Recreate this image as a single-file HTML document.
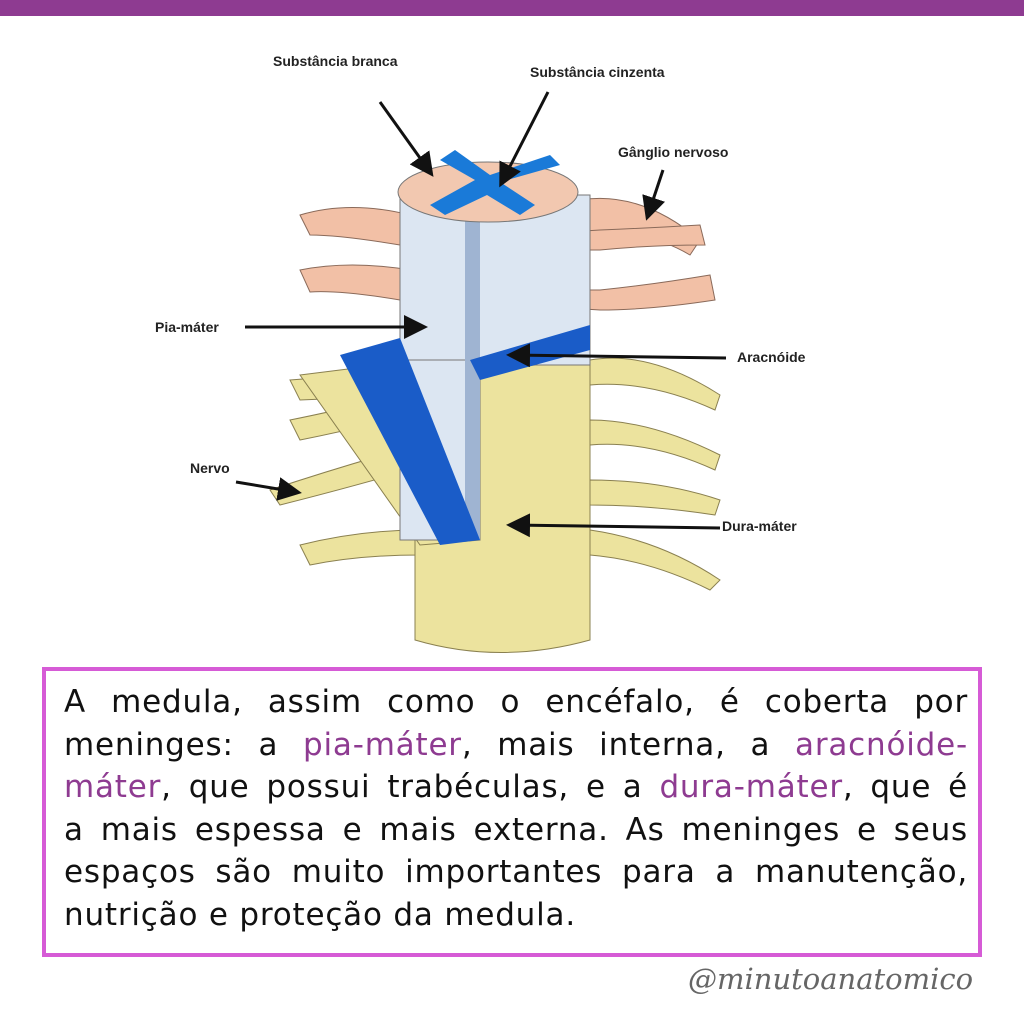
<!DOCTYPE html>
<html><head><meta charset="utf-8"><style>
body{margin:0;width:1024px;height:1024px;background:#fff;position:relative;overflow:hidden;font-family:"Liberation Sans",sans-serif}
.bar{position:absolute;left:0;top:0;width:1024px;height:16px;background:#8e3b91}
.box{position:absolute;left:42px;top:667px;width:932px;height:282px;border:4px solid #d65bd6;box-sizing:content-box}
.txt{position:absolute;left:18px;top:10px;width:904px;font-family:"DejaVu Sans",sans-serif;font-size:31px;line-height:42.6px;color:#111;letter-spacing:0.8px}
.txt div{text-align:justify;text-align-last:justify;white-space:nowrap}
.txt div.l{text-align-last:left}
.p{color:#8e3b91}
.h{position:absolute;left:688px;top:962px;font-family:"DejaVu Serif",cursive;font-style:italic;font-size:29px;color:#666}
</style></head><body>
<div class="bar"></div>
<svg width="1024" height="660" style="position:absolute;left:0;top:0" font-family="Liberation Sans,sans-serif" font-size="14" font-weight="bold" fill="#222">
<defs><marker id="a" markerWidth="8" markerHeight="8" refX="6" refY="4" orient="auto"><path d="M0,0L8,4L0,8z" fill="#111"/></marker></defs>
<g fill="#f2c0a6" stroke="#8a6a5a" stroke-width="1">
<path d="M300,215 Q350,200 410,215 L470,230 L470,250 L400,245 Q340,235 310,235z"/>
<path d="M300,270 Q350,260 410,270 L460,295 L460,310 L400,300 Q340,290 310,292z"/>
<path d="M580,200 Q640,190 700,240 L690,255 Q640,225 570,235z"/>
<path d="M520,235 L600,230 Q650,228 700,225 L705,245 Q650,245 600,250 L520,250z"/>
<path d="M520,290 L600,290 Q650,285 710,275 L715,300 Q650,310 600,310 L520,305z"/>
</g>
<g fill="#ece39e" stroke="#8a8050" stroke-width="1">
<path d="M290,380 L420,370 L420,395 L300,400z"/>
<path d="M290,420 Q340,410 400,395 L410,415 Q350,430 300,440z"/>
<path d="M270,490 Q330,470 400,450 L410,470 Q340,490 280,505z"/>
<path d="M300,545 Q360,530 420,530 L420,555 Q360,555 310,565z"/>
<path d="M590,360 Q650,350 720,395 L715,410 Q650,380 590,385z"/>
<path d="M590,420 Q650,420 720,455 L715,470 Q650,440 590,445z"/>
<path d="M590,480 Q660,480 720,500 L715,515 Q650,505 590,505z"/>
<path d="M590,530 Q660,540 720,580 L710,590 Q650,560 590,555z"/>
</g>
<path d="M415,540 L415,640 Q500,665 590,640 L590,360 L480,370 L480,540z" fill="#ece39e" stroke="#8a8050"/>
<path d="M300,375 L420,360 L480,540 L420,545z" fill="#ece39e" stroke="#8a8050"/>
<rect x="400" y="195" width="190" height="170" fill="#dce6f2" stroke="#777"/>
<rect x="400" y="360" width="80" height="180" fill="#dce6f2" stroke="#777"/>
<rect x="465" y="210" width="15" height="330" fill="#9fb4d2"/>
<path d="M340,355 L400,338 L480,540 L440,545z" fill="#1a5cc8"/>
<path d="M470,360 L590,325 L590,350 L480,380z" fill="#1a5cc8"/>
<ellipse cx="488" cy="192" rx="90" ry="30" fill="#f2c8b0" stroke="#777"/>
<path d="M440,160 L475,180 L430,205 L445,215 L487,195 L520,215 L535,205 L500,182 L560,165 L550,155 L490,175 L455,150z" fill="#1a7ad8"/>
<text x="273" y="66">Substância branca</text>
<text x="530" y="77">Substância cinzenta</text>
<text x="618" y="157">Gânglio nervoso</text>
<text x="155" y="332">Pia-máter</text>
<text x="737" y="362">Aracnóide</text>
<text x="190" y="473">Nervo</text>
<text x="722" y="531">Dura-máter</text>
<g stroke="#111" stroke-width="3" fill="none" marker-end="url(#a)">
<line x1="380" y1="102" x2="430" y2="172"/>
<line x1="548" y1="92" x2="502" y2="182"/>
<line x1="663" y1="170" x2="648" y2="215"/>
<line x1="245" y1="327" x2="422" y2="327"/>
<line x1="726" y1="358" x2="512" y2="355"/>
<line x1="236" y1="482" x2="296" y2="492"/>
<line x1="720" y1="528" x2="512" y2="525"/>
</g>
</svg>
<div class="box"><div class="txt">
<div>A medula, assim como o encéfalo, é coberta por</div>
<div>meninges: a <span class="p">pia-máter</span>, mais interna, a <span class="p">aracnóide-</span></div>
<div><span class="p">máter</span>, que possui trabéculas, e a <span class="p">dura-máter</span>, que é</div>
<div>a mais espessa e mais externa. As meninges e seus</div>
<div>espaços são muito importantes para a manutenção,</div>
<div class="l">nutrição e proteção da medula.</div>
</div></div>
<div class="h">@minutoanatomico</div>
</body></html>
